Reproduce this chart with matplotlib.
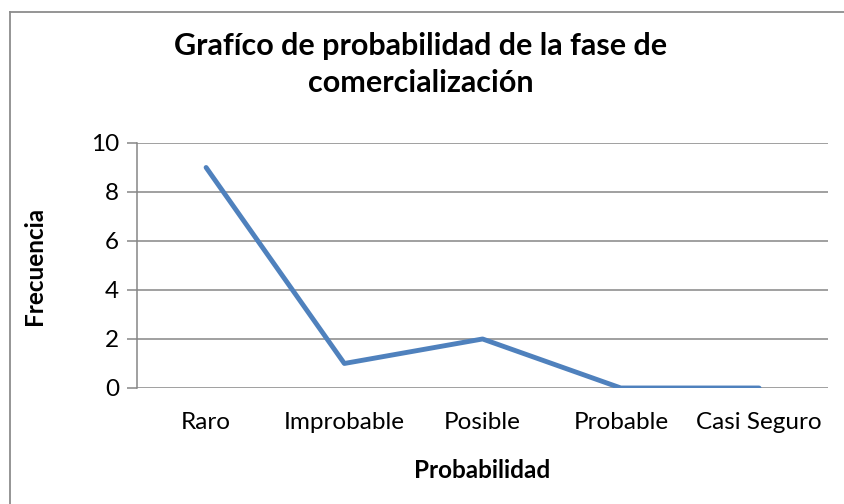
import matplotlib
matplotlib.use('Agg')
import matplotlib.pyplot as plt
from matplotlib.lines import Line2D

# ---- Data
categories = ['Raro', 'Improbable', 'Posible', 'Probable', 'Casi Seguro']
frecuencia = [9, 1, 2, 0, 0]
yticks = [0, 2, 4, 6, 8, 10]

plt.rcParams['font.family'] = ['Lato', 'DejaVu Sans']

fig = plt.figure(figsize=(8.45, 5.04), dpi=100)
ax = fig.add_axes([0.1621, 0.2302, 0.818, 0.4861])

# ---- Gridlines + line
for y in yticks:
    ax.axhline(y, color='#868686', lw=1.1, zorder=1)
ax.plot(range(len(categories)), frecuencia, color='#4F81BD', lw=3.5,
        solid_capstyle='round', solid_joinstyle='round', zorder=3)

ax.set_xlim(-0.5, len(categories) - 0.5)
ax.set_ylim(0, 10)
ax.set_yticks(yticks)
ax.set_xticks(range(len(categories)))
ax.set_xticklabels(categories)

for s in ['top', 'right', 'bottom']:
    ax.spines[s].set_visible(False)
ax.spines['left'].set_color('#868686')
ax.spines['left'].set_linewidth(1.1)
ax.tick_params(axis='y', length=7, width=1.1, color='#868686', labelsize=17.5, pad=6)
ax.tick_params(axis='x', length=0, labelsize=17.5, pad=17)

ax.set_ylabel('Frecuencia', fontsize=17.5, fontweight='bold')
ax.set_xlabel('Probabilidad', fontsize=17.5, fontweight='bold')
ax.yaxis.set_label_coords(-0.148, 0.5)
ax.xaxis.set_label_coords(0.5, -0.335)
ax.xaxis.label.set_va('center')
ax.yaxis.label.set_va('center')

fig.text(0.498, 0.872, 'Grafíco de probabilidad de la fase de\ncomercialización',
         ha='center', va='center', fontsize=22, fontweight='bold', linespacing=1.42)

# ---- Outer chart border (left + top visible)
top = 1 - 12 / 504
left = 10 / 845
fig.add_artist(Line2D([left, left], [0, top], color='#8c8c8c', lw=1.3, transform=fig.transFigure))
fig.add_artist(Line2D([left, 1], [top, top], color='#8c8c8c', lw=1.3, transform=fig.transFigure))

fig.savefig('out.png', dpi=100)
